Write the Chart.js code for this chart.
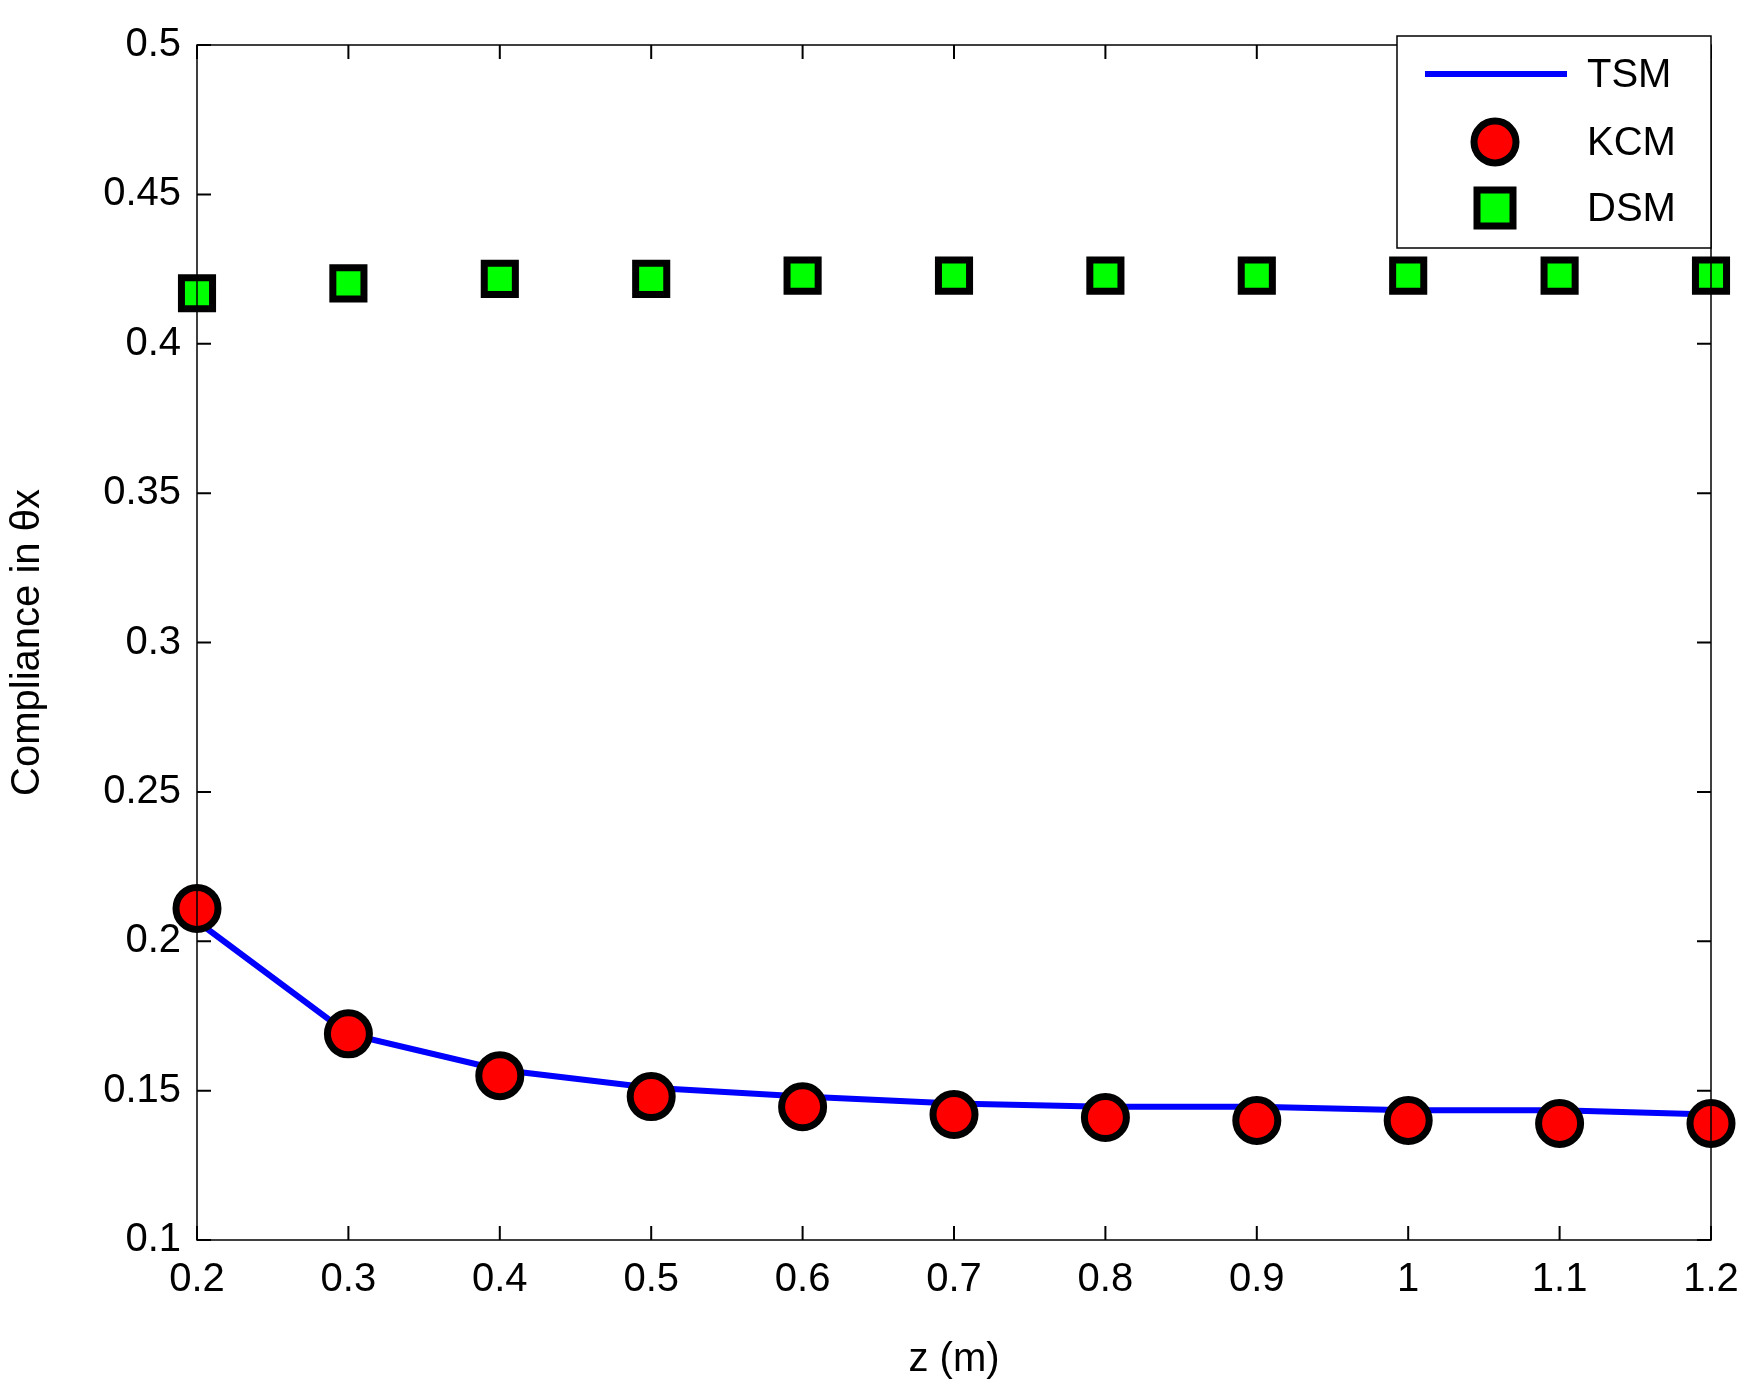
<!DOCTYPE html>
<html>
<head>
<meta charset="utf-8">
<script src="https://cdn.jsdelivr.net/npm/chart.js@4/dist/chart.umd.min.js"></script>
<style>
  html, body { margin: 0; padding: 0; background: #fff; }
  canvas { display: block; }
</style>
</head>
<body>
<canvas id="c" width="1758" height="1388"></canvas>
<script>
'use strict';

const zValues = [0.2, 0.3, 0.4, 0.5, 0.6, 0.7, 0.8, 0.9, 1.0, 1.1, 1.2];
const tsmValues = [0.2067, 0.169, 0.157, 0.151, 0.148, 0.1457, 0.1446, 0.1446, 0.1434, 0.1434, 0.142];
const kcmValues = [0.211, 0.169, 0.155, 0.148, 0.1446, 0.142, 0.141, 0.140, 0.140, 0.139, 0.139];
const dsmValues = [0.4169, 0.4202, 0.4217, 0.4217, 0.4228, 0.4228, 0.4228, 0.4228, 0.4228, 0.4228, 0.4228];
const xTicks = [0.2, 0.3, 0.4, 0.5, 0.6, 0.7, 0.8, 0.9, 1, 1.1, 1.2];
const yTicks = [0.1, 0.15, 0.2, 0.25, 0.3, 0.35, 0.4, 0.45, 0.5];

const FONT = 'Liberation Sans, Arial, sans-serif';
const pts = arr => arr.map((v, i) => ({ x: zValues[i], y: v }));

// box, inward ticks on all four sides, and a MATLAB style legend
const matlabFrame = {
    id: 'matlabFrame',
    afterDraw(chart) {
        const ctx = chart.ctx;
        const a = chart.chartArea;
        const xs = chart.scales.x, ys = chart.scales.y;
        ctx.save();
        ctx.strokeStyle = '#000';
        ctx.lineWidth = 1.5;
        ctx.strokeRect(a.left, a.top, a.right - a.left, a.bottom - a.top);
        const t = 14;
        ctx.lineWidth = 2;
        ctx.beginPath();
        xTicks.forEach(v => {
            const px = xs.getPixelForValue(v);
            ctx.moveTo(px, a.bottom); ctx.lineTo(px, a.bottom - t);
            ctx.moveTo(px, a.top); ctx.lineTo(px, a.top + t);
        });
        yTicks.forEach(v => {
            const py = ys.getPixelForValue(v);
            ctx.moveTo(a.left, py); ctx.lineTo(a.left + t, py);
            ctx.moveTo(a.right, py); ctx.lineTo(a.right - t, py);
        });
        ctx.stroke();

        // legend
        const lx = 1397, ly = 36, lw = 314, lh = 212;
        ctx.fillStyle = '#fff';
        ctx.fillRect(lx, ly, lw, lh);
        ctx.lineWidth = 1.5;
        ctx.strokeRect(lx, ly, lw, lh);
        ctx.font = '40px ' + FONT;
        ctx.textBaseline = 'middle';
        ctx.fillStyle = '#000';
        const rows = [ly + 38, ly + 106, ly + 172];
        ctx.strokeStyle = '#0000ff';
        ctx.lineWidth = 6;
        ctx.beginPath();
        ctx.moveTo(lx + 28, rows[0]); ctx.lineTo(lx + 170, rows[0]);
        ctx.stroke();
        ctx.fillText('TSM', lx + 190, rows[0] + 2);
        ctx.beginPath();
        ctx.arc(lx + 98, rows[1], 21, 0, Math.PI * 2);
        ctx.fillStyle = '#ff0000';
        ctx.fill();
        ctx.strokeStyle = '#000';
        ctx.lineWidth = 7;
        ctx.stroke();
        ctx.fillStyle = '#000';
        ctx.fillText('KCM', lx + 190, rows[1] + 2);
        ctx.fillStyle = '#00ff00';
        ctx.fillRect(lx + 80, rows[2] - 18, 36, 36);
        ctx.strokeRect(lx + 80, rows[2] - 18, 36, 36);
        ctx.fillStyle = '#000';
        ctx.fillText('DSM', lx + 190, rows[2] + 2);
        ctx.restore();
    }
};

new Chart(document.getElementById('c'), {
    type: 'scatter',
    data: {
        datasets: [
            {
                label: 'TSM', data: pts(tsmValues), showLine: true,
                borderColor: '#0000ff', borderWidth: 6, pointRadius: 0, order: 3
            },
            {
                label: 'KCM', data: pts(kcmValues),
                pointStyle: 'circle', pointRadius: 21, backgroundColor: '#ff0000',
                borderColor: '#000', pointBorderWidth: 7, order: 2
            },
            {
                label: 'DSM', data: pts(dsmValues),
                pointStyle: 'rect', pointRadius: 22, backgroundColor: '#00ff00',
                borderColor: '#000', pointBorderWidth: 7, order: 1
            }
        ]
    },
    options: {
        responsive: false,
        animation: false,
        clip: false,
        layout: { padding: { top: 45, right: 47, left: 0, bottom: 0 } },
        plugins: { legend: { display: false }, tooltip: { enabled: false } },
        scales: {
            x: {
                type: 'linear', min: 0.2, max: 1.2,
                afterBuildTicks: s => { s.ticks = xTicks.map(v => ({ value: v })); },
                afterFit: s => { s.height = 148; },
                grid: { display: false },
                border: { display: false },
                ticks: {
                    color: '#000', font: { size: 40, family: FONT }, padding: 8,
                    maxRotation: 0, autoSkip: false,
                    callback: v => String(Math.round(v * 10) / 10)
                },
                title: { display: true, text: 'z (m)', color: '#000', font: { size: 40, family: FONT }, padding: { top: 0 } }
            },
            y: {
                type: 'linear', min: 0.1, max: 0.5,
                afterBuildTicks: s => { s.ticks = yTicks.map(v => ({ value: v })); },
                afterFit: s => { s.width = 197; },
                grid: { display: false },
                border: { display: false },
                ticks: {
                    color: '#000', font: { size: 40, family: FONT }, padding: 8,
                    callback: v => String(Math.round(v * 100) / 100)
                },
                title: { display: true, text: 'Compliance in θx', color: '#000', font: { size: 40, family: FONT }, padding: { bottom: 4 } }
            }
        }
    },
    plugins: [matlabFrame]
});
</script>
</body>
</html>
